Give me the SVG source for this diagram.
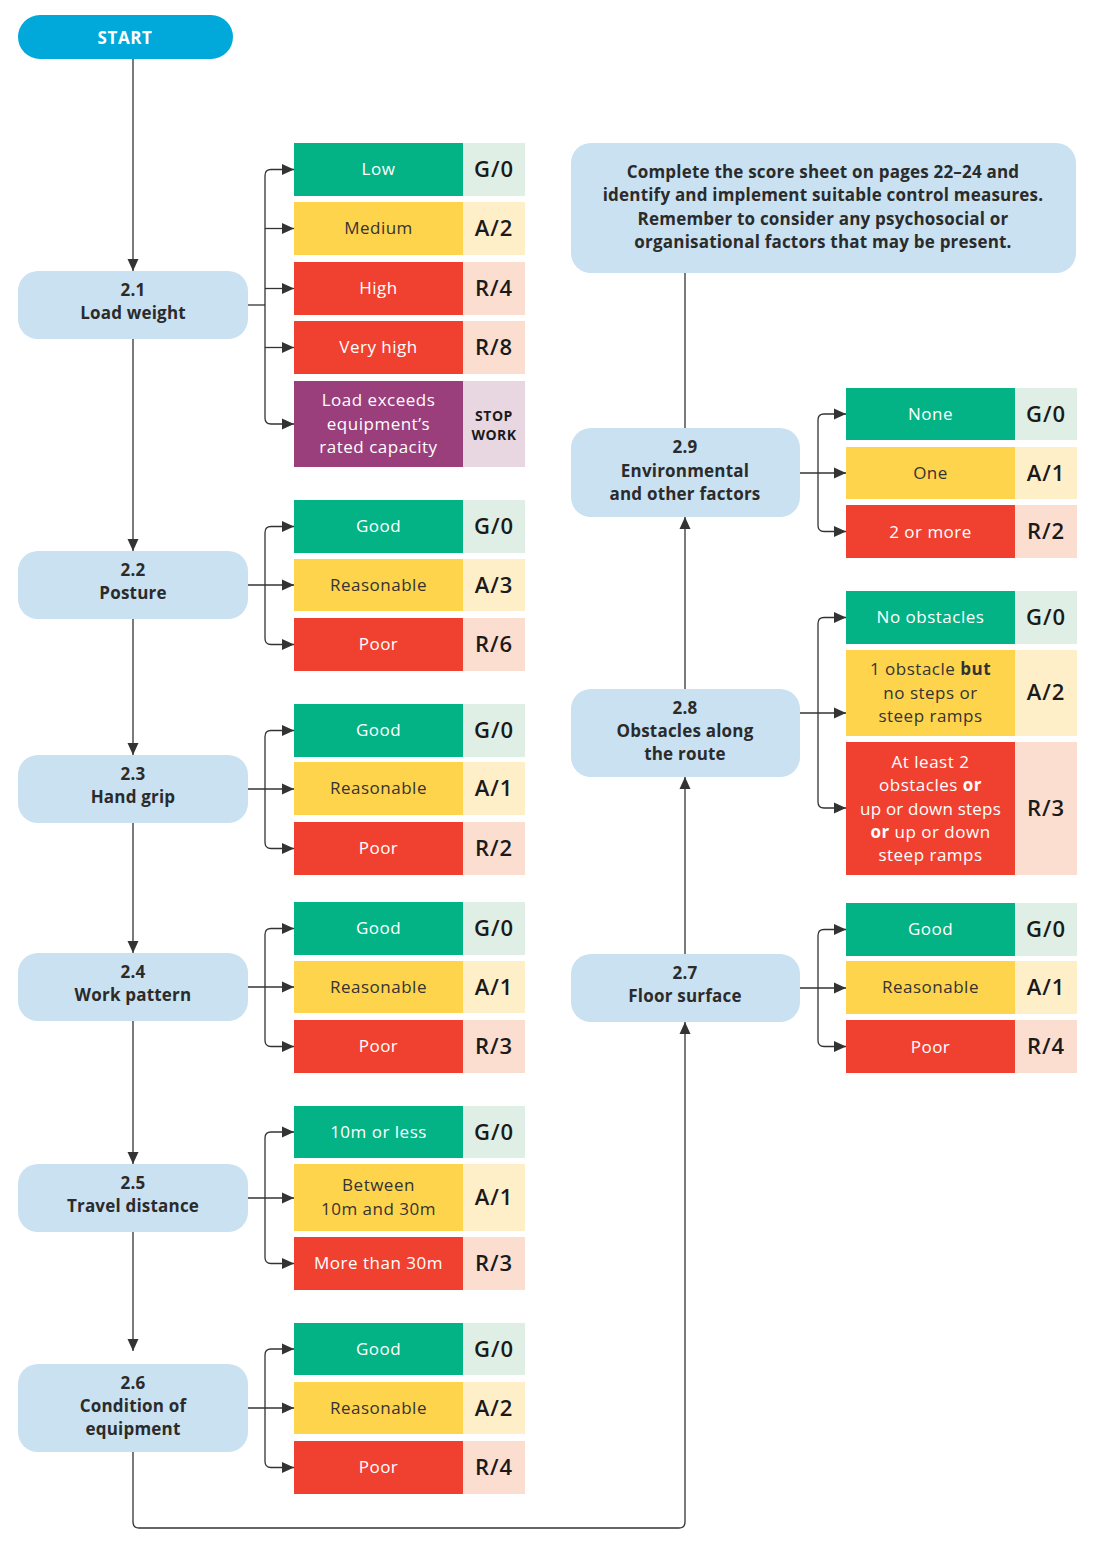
<svg xmlns="http://www.w3.org/2000/svg" width="1095" height="1561" viewBox="0 0 1095 1561">
<defs>
<marker id="ah" markerUnits="userSpaceOnUse" markerWidth="13" markerHeight="12" refX="12" refY="6" orient="auto">
<path d="M0,0.5 L12,6 L0,11.5 z" fill="#333"/>
</marker>
<style>
.node{fill:#C9E1F1}
.nt{font-family:"Open Sans","Liberation Sans",sans-serif;font-weight:700;font-size:17px;letter-spacing:0.2px;fill:#2b2b2b;text-anchor:middle}
.ol{font-family:"Open Sans","Liberation Sans",sans-serif;font-weight:400;font-size:17px;letter-spacing:0.5px;text-anchor:middle}
.w{fill:#ffffff}
.d{fill:#333333}
.sc{font-family:"Open Sans","Liberation Sans",sans-serif;font-weight:600;font-size:22px;letter-spacing:1px;fill:#1a1a1a;text-anchor:middle}
.g{fill:#03B385}.gl{fill:#DFEFE5}
.y{fill:#FED44C}.yl{fill:#FFEFC8}
.r{fill:#F04130}.rl{fill:#FCDED1}
.p{fill:#9A3E7C}.pl{fill:#E8D7E0}
.c{fill:none;stroke:#333;stroke-width:1.3}
.a{fill:none;stroke:#333;stroke-width:1.3;marker-end:url(#ah)}
</style>
</defs>
<rect width="1095" height="1561" fill="#ffffff"/>

<g id="connectors">
<path class="a" d="M133,59 V271"/>
<path class="a" d="M133,339 V551"/>
<path class="a" d="M133,619 V755"/>
<path class="a" d="M133,823 V953"/>
<path class="a" d="M133,1021 V1164"/>
<path class="a" d="M133,1232 V1351"/>
<path class="a" d="M133,1452 V1522 Q133,1528 139,1528 H679 Q685,1528 685,1522 V1022"/>
<path class="a" d="M685,954 V777"/>
<path class="a" d="M685,689 V517"/>
<path class="c" d="M685,428 V273"/>
<path class="c" d="M248,305 H265"/>
<path class="a" d="M265,305 V175.5 Q265,169.5 271,169.5 H294"/>
<path class="a" d="M265,305 V418 Q265,424 271,424 H294"/>
<path class="a" d="M265,228.5 H294"/>
<path class="a" d="M265,288.5 H294"/>
<path class="a" d="M265,347.5 H294"/>
<path class="a" d="M248,585 H294"/>
<path class="a" d="M265,585 V532.5 Q265,526.5 271,526.5 H294"/>
<path class="a" d="M265,585 V638.5 Q265,644.5 271,644.5 H294"/>
<path class="a" d="M248,789 H294"/>
<path class="a" d="M265,789 V736.5 Q265,730.5 271,730.5 H294"/>
<path class="a" d="M265,789 V842.5 Q265,848.5 271,848.5 H294"/>
<path class="a" d="M248,987 H294"/>
<path class="a" d="M265,987 V934.5 Q265,928.5 271,928.5 H294"/>
<path class="a" d="M265,987 V1040.5 Q265,1046.5 271,1046.5 H294"/>
<path class="a" d="M248,1198 H294"/>
<path class="a" d="M265,1198 V1138 Q265,1132 271,1132 H294"/>
<path class="a" d="M265,1198 V1257.5 Q265,1263.5 271,1263.5 H294"/>
<path class="a" d="M248,1408 H294"/>
<path class="a" d="M265,1408 V1355 Q265,1349 271,1349 H294"/>
<path class="a" d="M265,1408 V1461.5 Q265,1467.5 271,1467.5 H294"/>
<path class="a" d="M800,473 H846"/>
<path class="a" d="M818,473 V420 Q818,414 824,414 H846"/>
<path class="a" d="M818,473 V525.5 Q818,531.5 824,531.5 H846"/>
<path class="a" d="M800,713 H846"/>
<path class="a" d="M818,713 V623.5 Q818,617.5 824,617.5 H846"/>
<path class="a" d="M818,713 V802 Q818,808 824,808 H846"/>
<path class="a" d="M800,988 H846"/>
<path class="a" d="M818,988 V935.5 Q818,929.5 824,929.5 H846"/>
<path class="a" d="M818,988 V1040.5 Q818,1046.5 824,1046.5 H846"/>
</g>

<g id="start">
<rect x="18" y="15" width="215" height="44" rx="22" fill="#00A9D9"/>
<text x="125" y="44" class="nt" style="fill:#fff;letter-spacing:0.6px">START</text>
</g>

<g id="summary">
<rect x="571" y="143" width="505" height="130" rx="20" class="node"/>
<text class="nt" x="823" y="178">Complete the score sheet on pages 22–24 and</text>
<text class="nt" x="823" y="201">identify and implement suitable control measures.</text>
<text class="nt" x="823" y="225">Remember to consider any psychosocial or</text>
<text class="nt" x="823" y="248">organisational factors that may be present.</text>
</g>

<g id="n21">
<rect x="18" y="271" width="230" height="68" rx="20" class="node"/>
<text class="nt" x="133" y="296">2.1</text>
<text class="nt" x="133" y="319">Load weight</text>
</g>
<g id="n21-options">
<rect x="294" y="143" width="169" height="53" class="g"/><rect x="463" y="143" width="62" height="53" class="gl"/>
<text class="ol w" x="378.5" y="175">Low</text><text class="sc" x="494" y="177">G/0</text>
<rect x="294" y="202" width="169" height="53" class="y"/><rect x="463" y="202" width="62" height="53" class="yl"/>
<text class="ol d" x="378.5" y="234">Medium</text><text class="sc" x="494" y="236">A/2</text>
<rect x="294" y="262" width="169" height="53" class="r"/><rect x="463" y="262" width="62" height="53" class="rl"/>
<text class="ol w" x="378.5" y="294">High</text><text class="sc" x="494" y="296">R/4</text>
<rect x="294" y="321" width="169" height="53" class="r"/><rect x="463" y="321" width="62" height="53" class="rl"/>
<text class="ol w" x="378.5" y="353">Very high</text><text class="sc" x="494" y="355">R/8</text>
<rect x="294" y="381" width="169" height="86" class="p"/><rect x="463" y="381" width="62" height="86" class="pl"/>
<text class="ol w" x="378.5" y="406">Load exceeds</text>
<text class="ol w" x="378.5" y="430">equipment’s</text>
<text class="ol w" x="378.5" y="453">rated capacity</text>
<text class="nt" x="494" y="421" style="font-size:14px;letter-spacing:0.5px;fill:#1a1a1a">STOP</text>
<text class="nt" x="494" y="440" style="font-size:14px;letter-spacing:0.5px;fill:#1a1a1a">WORK</text>
</g>

<g id="n22">
<rect x="18" y="551" width="230" height="68" rx="20" class="node"/>
<text class="nt" x="133" y="576">2.2</text>
<text class="nt" x="133" y="599">Posture</text>
</g>
<g id="n22-options">
<rect x="294" y="500" width="169" height="53" class="g"/><rect x="463" y="500" width="62" height="53" class="gl"/>
<text class="ol w" x="378.5" y="532">Good</text><text class="sc" x="494" y="534">G/0</text>
<rect x="294" y="559" width="169" height="52" class="y"/><rect x="463" y="559" width="62" height="52" class="yl"/>
<text class="ol d" x="378.5" y="591">Reasonable</text><text class="sc" x="494" y="593">A/3</text>
<rect x="294" y="618" width="169" height="53" class="r"/><rect x="463" y="618" width="62" height="53" class="rl"/>
<text class="ol w" x="378.5" y="650">Poor</text><text class="sc" x="494" y="652">R/6</text>
</g>

<g id="n23">
<rect x="18" y="755" width="230" height="68" rx="20" class="node"/>
<text class="nt" x="133" y="780">2.3</text>
<text class="nt" x="133" y="803">Hand grip</text>
</g>
<g id="n23-options">
<rect x="294" y="704" width="169" height="53" class="g"/><rect x="463" y="704" width="62" height="53" class="gl"/>
<text class="ol w" x="378.5" y="736">Good</text><text class="sc" x="494" y="738">G/0</text>
<rect x="294" y="762" width="169" height="53" class="y"/><rect x="463" y="762" width="62" height="53" class="yl"/>
<text class="ol d" x="378.5" y="794">Reasonable</text><text class="sc" x="494" y="796">A/1</text>
<rect x="294" y="822" width="169" height="53" class="r"/><rect x="463" y="822" width="62" height="53" class="rl"/>
<text class="ol w" x="378.5" y="854">Poor</text><text class="sc" x="494" y="856">R/2</text>
</g>

<g id="n24">
<rect x="18" y="953" width="230" height="68" rx="20" class="node"/>
<text class="nt" x="133" y="978">2.4</text>
<text class="nt" x="133" y="1001">Work pattern</text>
</g>
<g id="n24-options">
<rect x="294" y="902" width="169" height="53" class="g"/><rect x="463" y="902" width="62" height="53" class="gl"/>
<text class="ol w" x="378.5" y="934">Good</text><text class="sc" x="494" y="936">G/0</text>
<rect x="294" y="961" width="169" height="52" class="y"/><rect x="463" y="961" width="62" height="52" class="yl"/>
<text class="ol d" x="378.5" y="993">Reasonable</text><text class="sc" x="494" y="995">A/1</text>
<rect x="294" y="1020" width="169" height="53" class="r"/><rect x="463" y="1020" width="62" height="53" class="rl"/>
<text class="ol w" x="378.5" y="1052">Poor</text><text class="sc" x="494" y="1054">R/3</text>
</g>

<g id="n25">
<rect x="18" y="1164" width="230" height="68" rx="20" class="node"/>
<text class="nt" x="133" y="1189">2.5</text>
<text class="nt" x="133" y="1212">Travel distance</text>
</g>
<g id="n25-options">
<rect x="294" y="1106" width="169" height="52" class="g"/><rect x="463" y="1106" width="62" height="52" class="gl"/>
<text class="ol w" x="378.5" y="1138">10m or less</text><text class="sc" x="494" y="1140">G/0</text>
<rect x="294" y="1164" width="169" height="67" class="y"/><rect x="463" y="1164" width="62" height="67" class="yl"/>
<text class="ol d" x="378.5" y="1191">Between</text>
<text class="ol d" x="378.5" y="1215">10m and 30m</text><text class="sc" x="494" y="1205">A/1</text>
<rect x="294" y="1237" width="169" height="53" class="r"/><rect x="463" y="1237" width="62" height="53" class="rl"/>
<text class="ol w" x="378.5" y="1269">More than 30m</text><text class="sc" x="494" y="1271">R/3</text>
</g>

<g id="n26">
<rect x="18" y="1364" width="230" height="88" rx="20" class="node"/>
<text class="nt" x="133" y="1389">2.6</text>
<text class="nt" x="133" y="1412">Condition of</text>
<text class="nt" x="133" y="1435">equipment</text>
</g>
<g id="n26-options">
<rect x="294" y="1323" width="169" height="52" class="g"/><rect x="463" y="1323" width="62" height="52" class="gl"/>
<text class="ol w" x="378.5" y="1355">Good</text><text class="sc" x="494" y="1357">G/0</text>
<rect x="294" y="1382" width="169" height="52" class="y"/><rect x="463" y="1382" width="62" height="52" class="yl"/>
<text class="ol d" x="378.5" y="1414">Reasonable</text><text class="sc" x="494" y="1416">A/2</text>
<rect x="294" y="1441" width="169" height="53" class="r"/><rect x="463" y="1441" width="62" height="53" class="rl"/>
<text class="ol w" x="378.5" y="1473">Poor</text><text class="sc" x="494" y="1475">R/4</text>
</g>

<g id="n27">
<rect x="571" y="954" width="229" height="68" rx="20" class="node"/>
<text class="nt" x="685" y="979">2.7</text>
<text class="nt" x="685" y="1002">Floor surface</text>
</g>
<g id="n27-options">
<rect x="846" y="903" width="169" height="53" class="g"/><rect x="1015" y="903" width="62" height="53" class="gl"/>
<text class="ol w" x="930.5" y="935">Good</text><text class="sc" x="1046" y="937">G/0</text>
<rect x="846" y="961" width="169" height="53" class="y"/><rect x="1015" y="961" width="62" height="53" class="yl"/>
<text class="ol d" x="930.5" y="993">Reasonable</text><text class="sc" x="1046" y="995">A/1</text>
<rect x="846" y="1020" width="169" height="53" class="r"/><rect x="1015" y="1020" width="62" height="53" class="rl"/>
<text class="ol w" x="930.5" y="1053">Poor</text><text class="sc" x="1046" y="1054">R/4</text>
</g>

<g id="n28">
<rect x="571" y="689" width="229" height="88" rx="20" class="node"/>
<text class="nt" x="685" y="714">2.8</text>
<text class="nt" x="685" y="737">Obstacles along</text>
<text class="nt" x="685" y="760">the route</text>
</g>
<g id="n28-options">
<rect x="846" y="591" width="169" height="53" class="g"/><rect x="1015" y="591" width="62" height="53" class="gl"/>
<text class="ol w" x="930.5" y="623">No obstacles</text><text class="sc" x="1046" y="625">G/0</text>
<rect x="846" y="650" width="169" height="86" class="y"/><rect x="1015" y="650" width="62" height="86" class="yl"/>
<text class="ol d" x="930.5" y="675">1 obstacle <tspan font-weight="700">but</tspan></text>
<text class="ol d" x="930.5" y="699">no steps or</text>
<text class="ol d" x="930.5" y="722">steep ramps</text>
<text class="sc" x="1046" y="700">A/2</text>
<rect x="846" y="742" width="169" height="133" class="r"/><rect x="1015" y="742" width="62" height="133" class="rl"/>
<text class="ol w" x="930.5" y="768">At least 2</text>
<text class="ol w" x="930.5" y="791">obstacles <tspan font-weight="700">or</tspan></text>
<text class="ol w" x="930.5" y="815" style="letter-spacing:0.2px">up or down steps</text>
<text class="ol w" x="930.5" y="838"><tspan font-weight="700">or</tspan> up or down</text>
<text class="ol w" x="930.5" y="861">steep ramps</text>
<text class="sc" x="1046" y="816">R/3</text>
</g>

<g id="n29">
<rect x="571" y="428" width="229" height="89" rx="20" class="node"/>
<text class="nt" x="685" y="453">2.9</text>
<text class="nt" x="685" y="477">Environmental</text>
<text class="nt" x="685" y="500">and other factors</text>
</g>
<g id="n29-options">
<rect x="846" y="388" width="169" height="52" class="g"/><rect x="1015" y="388" width="62" height="52" class="gl"/>
<text class="ol w" x="930.5" y="420">None</text><text class="sc" x="1046" y="422">G/0</text>
<rect x="846" y="447" width="169" height="52" class="y"/><rect x="1015" y="447" width="62" height="52" class="yl"/>
<text class="ol d" x="930.5" y="479">One</text><text class="sc" x="1046" y="481">A/1</text>
<rect x="846" y="505" width="169" height="53" class="r"/><rect x="1015" y="505" width="62" height="53" class="rl"/>
<text class="ol w" x="930.5" y="538">2 or more</text><text class="sc" x="1046" y="539">R/2</text>
</g>
</svg>
